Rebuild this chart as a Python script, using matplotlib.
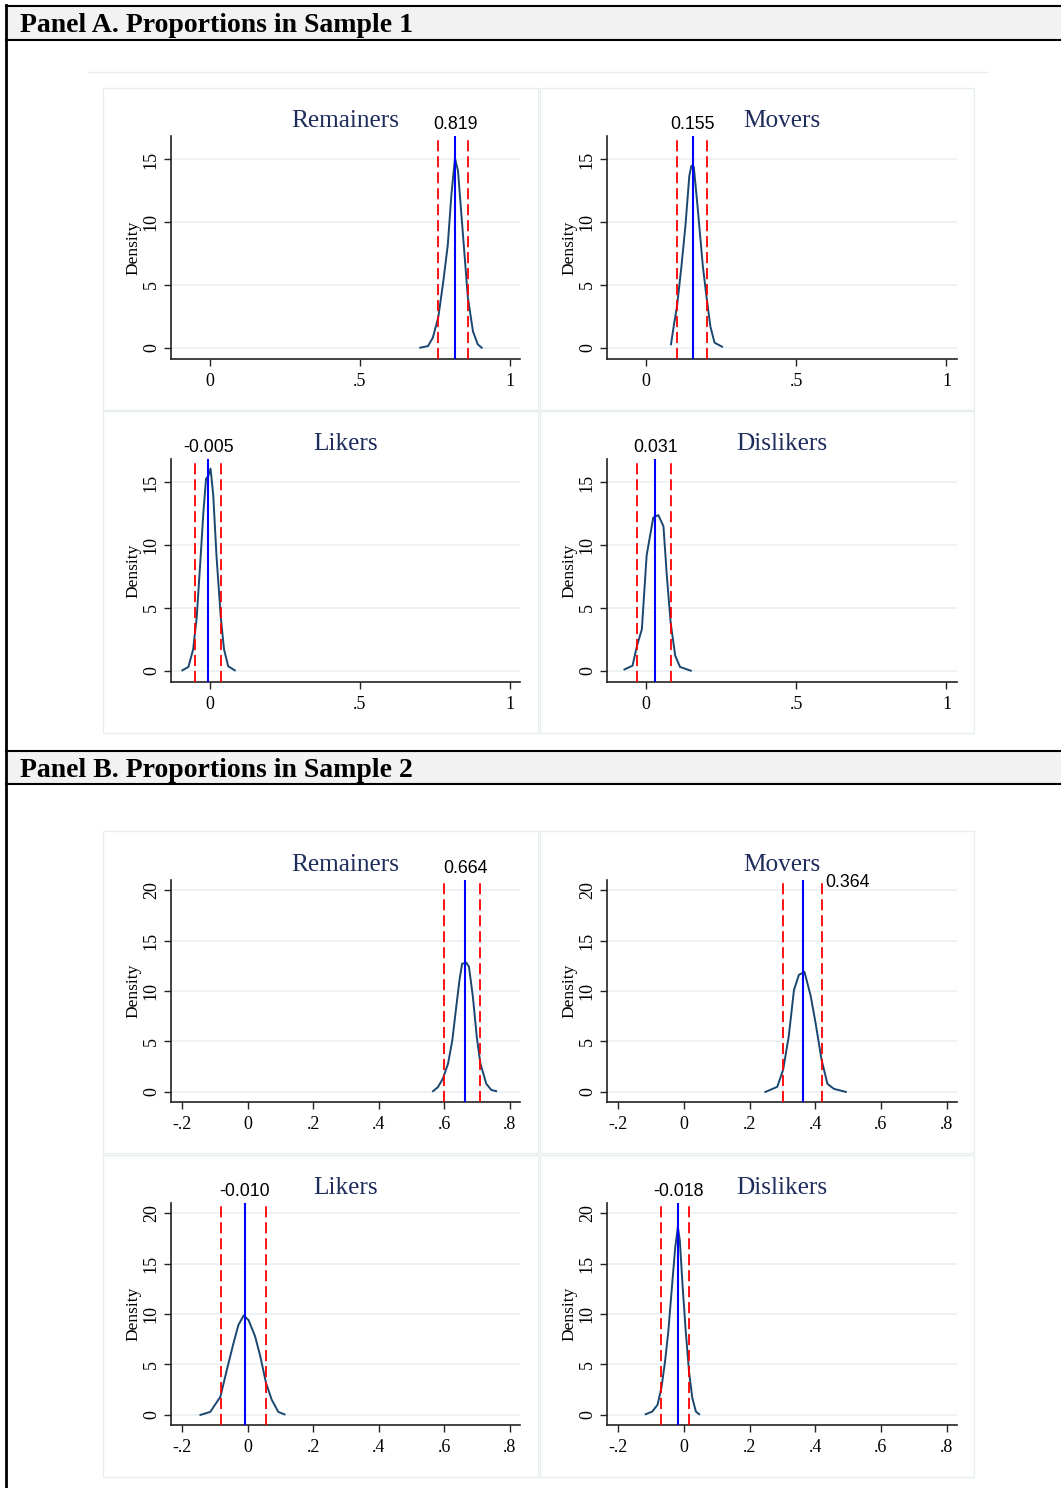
import matplotlib
matplotlib.use("Agg")
import matplotlib.pyplot as plt
from matplotlib.patches import Rectangle
import matplotlib.transforms as mtransforms

plt.rcParams['lines.scale_dashes'] = False

# ---------------- data ----------------
groups = ["Remainers", "Movers", "Likers", "Dislikers"]
panel_titles = ["Panel A. Proportions in Sample 1", "Panel B. Proportions in Sample 2"]

a_means = [0.819, 0.155, -0.005, 0.031]
a_ci_lo = [0.762, 0.104, -0.050, -0.029]
a_ci_hi = [0.861, 0.202, 0.036, 0.082]

b_means = [0.664, 0.364, -0.010, -0.018]
b_ci_lo = [0.601, 0.302, -0.082, -0.069]
b_ci_hi = [0.711, 0.419, 0.056, 0.015]

a_rem_x = [0.702, 0.728, 0.744, 0.762, 0.778, 0.794, 0.806, 0.818, 0.828, 0.842, 0.861, 0.878, 0.894, 0.907]
a_rem_y = [0.0, 0.13, 0.8, 2.4, 5.1, 8.2, 12.2, 15.1, 14.1, 9.8, 4.0, 1.3, 0.27, 0.0]
a_mov_x = [0.083, 0.094, 0.103, 0.117, 0.131, 0.144, 0.151, 0.159, 0.172, 0.189, 0.201, 0.214, 0.228, 0.253]
a_mov_y = [0.27, 2.0, 3.3, 6.3, 9.7, 13.7, 14.5, 14.4, 11.1, 6.5, 4.1, 1.7, 0.4, 0.08]
a_lik_x = [-0.092, -0.072, -0.056, -0.044, -0.031, -0.022, -0.013, -0.006, 0.002, 0.011, 0.022, 0.036, 0.047, 0.061, 0.083]
a_lik_y = [0.03, 0.3, 1.7, 4.3, 9.1, 12.6, 15.3, 15.5, 16.1, 14.0, 9.1, 4.3, 1.7, 0.35, 0.03]
a_dis_x = [-0.072, -0.045, -0.030, -0.014, 0.002, 0.024, 0.041, 0.058, 0.069, 0.082, 0.097, 0.113, 0.149]
a_dis_y = [0.1, 0.4, 2.0, 3.3, 9.2, 12.2, 12.4, 11.5, 7.6, 3.8, 1.2, 0.3, 0.0]

b_rem_x = [0.566, 0.581, 0.596, 0.612, 0.625, 0.637, 0.647, 0.655, 0.668, 0.676, 0.688, 0.700, 0.711, 0.729, 0.744, 0.759]
b_rem_y = [0.07, 0.47, 1.3, 2.8, 5.1, 8.4, 11.1, 12.7, 12.8, 12.4, 9.4, 5.4, 2.8, 0.8, 0.2, 0.07]
b_mov_x = [0.248, 0.284, 0.302, 0.319, 0.335, 0.350, 0.367, 0.386, 0.401, 0.419, 0.437, 0.457, 0.493]
b_mov_y = [0.0, 0.5, 2.2, 5.5, 10.1, 11.6, 11.9, 9.5, 6.8, 3.2, 0.8, 0.3, 0.0]
b_lik_x = [-0.145, -0.115, -0.084, -0.064, -0.044, -0.029, -0.013, 0.002, 0.022, 0.038, 0.056, 0.073, 0.093, 0.112]
b_lik_y = [0.0, 0.3, 1.8, 4.5, 7.1, 8.9, 9.85, 9.4, 7.8, 5.8, 3.1, 1.5, 0.3, 0.05]
b_dis_x = [-0.117, -0.097, -0.081, -0.069, -0.058, -0.048, -0.038, -0.027, -0.019, -0.013, -0.005, 0.005, 0.015, 0.025, 0.036, 0.046]
b_dis_y = [0.07, 0.33, 1.0, 2.7, 5.3, 8.3, 12.3, 16.6, 18.6, 17.3, 13.0, 8.3, 4.3, 1.7, 0.33, 0.07]

a_xticks = [0, 0.5, 1]
a_xticklabels = ["0", ".5", "1"]
a_yticks = [0, 5, 10, 15]
b_xticks = [-0.2, 0, 0.2, 0.4, 0.6, 0.8]
b_xticklabels = ["-.2", "0", ".2", ".4", ".6", ".8"]
b_yticks = [0, 5, 10, 15, 20]

# ---------------- layout / style ----------------
W, H = 1061, 1488
fig = plt.figure(figsize=(W / 100, H / 100), dpi=100)
fig.patch.set_facecolor("white")

SERIF = ["Liberation Serif", "DejaVu Serif"]
SANS = ["Liberation Sans", "DejaVu Sans"]
NAVY = "#1f2d5c"
CURVE = "#1a476f"
GRID = "#e8f0f1"
BOXC = "#e6eeef"

bg = fig.add_axes([0, 0, 1, 1], zorder=0)
bg.set_xlim(0, W)
bg.set_ylim(H, 0)
bg.axis("off")

# header bars & frame
for (y0, y1), title in zip([(6, 40), (751, 784)], panel_titles):
    bg.add_patch(Rectangle((6, y0), W - 6, y1 - y0, facecolor="#f2f2f2", edgecolor="none"))
    bg.plot([6, W], [y0, y0], color="black", lw=1.5)
    bg.plot([6, W], [y1, y1], color="black", lw=1.5)
    bg.text(20, (y0 + y1) / 2 + 3, title, family=SERIF, weight="bold", fontsize=20,
            ha="left", va="center", color="black")
bg.plot([6, 6], [5, H], color="black", lw=2)
bg.plot([88, 988], [72, 72], color=BOXC, lw=1)

# subplot region boxes
col_box = [(103, 538), (540, 974)]
row_box = [(88, 410), (411, 733), (831, 1153), (1155, 1477)]
for (ry0, ry1) in row_box:
    for (cx0, cx1) in col_box:
        bg.add_patch(Rectangle((cx0, ry0), cx1 - cx0, ry1 - ry0, facecolor="white",
                               edgecolor=BOXC, lw=1))

col_ax = [(171, 520), (607, 957)]
row_ax = [(136, 359), (459, 682), (880, 1102), (1203, 1425)]


def add_ax(x0, y0, x1, y1):
    return fig.add_axes([x0 / W, 1 - y1 / H, (x1 - x0) / W, (y1 - y0) / H], zorder=2)


curves = [
    [(a_rem_x, a_rem_y), (a_mov_x, a_mov_y), (a_lik_x, a_lik_y), (a_dis_x, a_dis_y)],
    [(b_rem_x, b_rem_y), (b_mov_x, b_mov_y), (b_lik_x, b_lik_y), (b_dis_x, b_dis_y)],
]
means = [a_means, b_means]
ci_lo = [a_ci_lo, b_ci_lo]
ci_hi = [a_ci_hi, b_ci_hi]
xlims = [(-0.13, 1.035), (-0.235, 0.832)]
ylims = [(-0.9, 16.87), (-1.0, 21.0)]
xticks = [a_xticks, b_xticks]
xticklabels = [a_xticklabels, b_xticklabels]
yticks = [a_yticks, b_yticks]

for p in range(2):
    for g in range(4):
        r = p * 2 + g // 2
        c = g % 2
        ax = add_ax(col_ax[c][0], row_ax[r][0], col_ax[c][1], row_ax[r][1])
        ax.set_facecolor("none")
        ax.set_xlim(*xlims[p])
        ax.set_ylim(*ylims[p])
        for s in ["top", "right"]:
            ax.spines[s].set_visible(False)
        for s in ["left", "bottom"]:
            ax.spines[s].set_color("#222222")
            ax.spines[s].set_linewidth(1.2)
        ax.set_xticks(xticks[p])
        ax.set_xticklabels(xticklabels[p], family=SERIF, fontsize=13)
        ax.set_yticks(yticks[p])
        ax.set_yticklabels([str(v) for v in yticks[p]], family=SERIF, fontsize=13,
                           rotation=90, va="center")
        ax.tick_params(axis="x", direction="out", length=5, width=1, color="#222222", pad=5)
        ax.tick_params(axis="y", direction="out", length=5, width=1, color="#222222", pad=3)
        ax.grid(axis="y", color=GRID, lw=1.1)
        ax.set_axisbelow(True)
        ax.set_ylabel("Density", family=SERIF, fontsize=12.5, labelpad=1)

        cx, cy = curves[p][g]
        ax.plot(cx, cy, color=CURVE, lw=1.4, zorder=3)
        m = means[p][g]
        ax.axvline(ci_lo[p][g], color="#ff0000", lw=1.3, ls=(0, (8, 3.5)), zorder=4)
        ax.axvline(ci_hi[p][g], color="#ff0000", lw=1.3, ls=(0, (8, 3.5)), zorder=4)
        ax.axvline(m, color="#0000ff", lw=1.5, zorder=5)

        title_tr = ax.transAxes + mtransforms.ScaledTranslation(0, 4 / 100, fig.dpi_scale_trans)
        ax.text(0.5, 1.0, groups[g], transform=title_tr, family=SERIF, fontsize=18.2,
                color=NAVY, ha="center", va="bottom")
        label = f"{m:.3f}"
        if p == 1 and g == 1:
            ax.annotate(label, xy=(ci_hi[p][g], ylims[p][1]), xytext=(3, -1.5),
                        textcoords="offset points", family=SANS, fontsize=12.8,
                        ha="left", va="center", annotation_clip=False)
        else:
            ax.annotate(label, xy=(m, ylims[p][1]), xytext=(0, 2.5),
                        textcoords="offset points", family=SANS, fontsize=12.8,
                        ha="center", va="bottom", annotation_clip=False)

fig.savefig("out.png", dpi=100)
